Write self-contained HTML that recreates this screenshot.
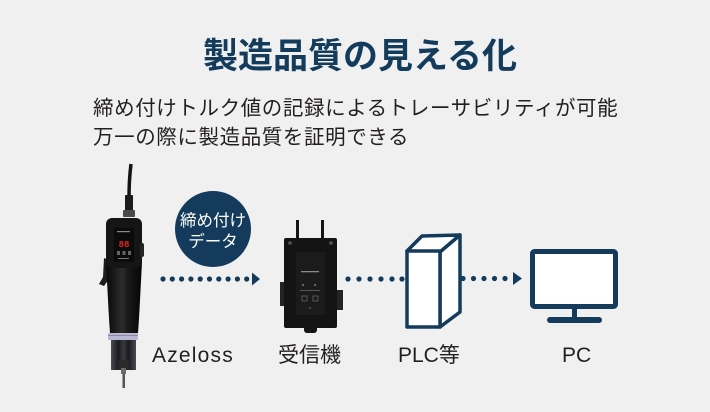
<!DOCTYPE html>
<html><head><meta charset="utf-8">
<style>
html,body{margin:0;padding:0;}
body{width:710px;height:412px;background:#f0f0f0;position:relative;overflow:hidden;font-family:"Liberation Sans","Noto Sans CJK JP",sans-serif;}
.t{position:absolute;white-space:nowrap;}
#title{left:203px;top:36px;font-size:35px;line-height:35px;font-weight:bold;color:#133c5c;font-family:"Noto Sans CJK JP",sans-serif;}
#sub{left:93px;top:92px;font-size:20.5px;line-height:29px;color:#231f20;letter-spacing:0.6px;font-family:"Noto Sans CJK JP",sans-serif;}
.lbl{font-size:21px;line-height:21px;color:#231f20;top:345px;}
#ctext{left:175px;top:209px;width:76px;text-align:center;color:#fff;font-size:16.5px;line-height:21px;font-family:"Noto Sans CJK JP",sans-serif;}
svg{position:absolute;left:0;top:0;}
</style></head>
<body>
<svg width="710" height="412" viewBox="0 0 710 412">
  <defs>
    <linearGradient id="grip" x1="0" x2="1" y1="0" y2="0">
      <stop offset="0" stop-color="#070707"/>
      <stop offset="0.45" stop-color="#2c2c2c"/>
      <stop offset="0.6" stop-color="#1a1a1a"/>
      <stop offset="1" stop-color="#050505"/>
    </linearGradient>
    <linearGradient id="nose" x1="0" x2="1">
      <stop offset="0" stop-color="#4a4a55"/>
      <stop offset="0.3" stop-color="#1a1a1e"/>
      <stop offset="0.5" stop-color="#3a3a3e"/>
      <stop offset="0.7" stop-color="#1a1a1e"/>
      <stop offset="1" stop-color="#4a4a55"/>
    </linearGradient>
  </defs>
  <!-- screwdriver -->
  <path d="M131,164 Q129,180 129,198" stroke="#141414" stroke-width="3.5" fill="none"/>
  <rect x="125" y="195" width="8" height="17" rx="1" fill="#1b1b1b"/>
  <rect x="123" y="210" width="12" height="7" rx="1" fill="#4a4a4a"/>
  <path d="M104,258 L111,261 L109,279 L104,286 L99,284 L103,277 Z" fill="#1c1c1c"/>
  <path d="M106,262 L142,262 L140,300 Q139,320 138,333 L110,333 Q109,320 108,300 Z" fill="url(#grip)"/>
  <rect x="106" y="218" width="36" height="50" rx="6" fill="#151515"/>
  <rect x="140" y="243" width="4" height="14" rx="2" fill="#252525"/>
  <rect x="114" y="228" width="20" height="34" fill="#0b0b0b"/>
  <rect x="117" y="231" width="13" height="1.2" fill="#888"/>
  <text x="124" y="247" font-size="9" font-weight="bold" fill="#e3262b" text-anchor="middle" font-family="Liberation Mono,monospace">88</text>
  <rect x="117" y="251" width="3" height="4" fill="#666"/>
  <rect x="122.5" y="251" width="3" height="4" fill="#666"/>
  <rect x="128" y="251" width="3" height="4" fill="#666"/>
  <rect x="118" y="258" width="11" height="1" fill="#777"/>
  <rect x="108" y="333" width="30" height="7" rx="1" fill="#b8b7d2"/>
  <rect x="108" y="335" width="30" height="1" fill="#8a89a8"/>
  <rect x="111" y="340" width="25" height="30" fill="url(#nose)"/>
  <rect x="118" y="360" width="11" height="10" fill="#2a2a2a"/>
  <rect x="121" y="368" width="5" height="6" fill="#6a6a6a"/>
  <rect x="122.5" y="374" width="2.5" height="14" fill="#555"/>
  <!-- receiver -->
  <rect x="296" y="220" width="3" height="22" fill="#151515"/>
  <rect x="321" y="220" width="3" height="22" fill="#151515"/>
  <rect x="280" y="282" width="6" height="24" fill="#242424"/>
  <rect x="335" y="290" width="8" height="20" fill="#242424"/>
  <rect x="304" y="324" width="13" height="9" rx="3" fill="#151515"/>
  <rect x="284" y="238" width="53" height="90" rx="2" fill="#141414"/>
  <circle cx="290" cy="243" r="1.8" fill="#555"/>
  <circle cx="331" cy="243" r="1.8" fill="#555"/>
  <rect x="296" y="252" width="29" height="63" fill="#1b1b1b"/>
  <rect x="301" y="271" width="18" height="1.3" fill="#8a8a8a"/>
  <circle cx="303" cy="285" r="1.2" fill="#666"/>
  <circle cx="315" cy="285" r="1.2" fill="#666"/>
  <rect x="300" y="290" width="20" height="1" fill="#555"/>
  <rect x="302" y="296" width="5" height="5" fill="none" stroke="#666" stroke-width="0.8"/>
  <rect x="313" y="296" width="5" height="5" fill="none" stroke="#666" stroke-width="0.8"/>
  <circle cx="310" cy="308" r="1" fill="#555"/>
  <!-- circle -->
  <circle cx="213" cy="229" r="38" fill="#143b5b"/>
  <!-- arrows -->
  <g fill="#143b5b">
    <circle cx="163" cy="279" r="2.6"/><circle cx="172.3" cy="279" r="2.6"/><circle cx="181.6" cy="279" r="2.6"/><circle cx="190.9" cy="279" r="2.6"/><circle cx="200.2" cy="279" r="2.6"/><circle cx="209.5" cy="279" r="2.6"/><circle cx="218.8" cy="279" r="2.6"/><circle cx="228.1" cy="279" r="2.6"/><circle cx="237.4" cy="279" r="2.6"/><circle cx="246.7" cy="279" r="2.6"/>
    <polygon points="252,272.5 260,279 252,285.5"/>
    <circle cx="348" cy="279" r="2.6"/><circle cx="359" cy="279" r="2.6"/><circle cx="370" cy="279" r="2.6"/><circle cx="381" cy="279" r="2.6"/><circle cx="392" cy="279" r="2.6"/><circle cx="402" cy="279" r="2.6"/>
    <circle cx="463" cy="278.5" r="2.6"/><circle cx="473.5" cy="278.5" r="2.6"/><circle cx="484" cy="278.5" r="2.6"/><circle cx="494.5" cy="278.5" r="2.6"/><circle cx="505" cy="278.5" r="2.6"/>
    <polygon points="513,272 522,278.5 513,285"/>
  </g>
  <!-- PLC box -->
  <g stroke="#143b5b" stroke-width="3.5" stroke-linejoin="round" fill="#fff">
    <polygon points="407,251 422,236 460,235 440,252"/>
    <polygon points="440,252 460,235 460,312 440,327"/>
    <rect x="407" y="251" width="33" height="76"/>
  </g>
  <!-- PC monitor -->
  <rect x="532.5" y="251.5" width="83" height="55" rx="2" fill="#fff" stroke="#143b5b" stroke-width="5"/>
  <rect x="572" y="308" width="5" height="11" fill="#143b5b"/>
  <line x1="550" y1="320" x2="599" y2="320" stroke="#143b5b" stroke-width="6" stroke-linecap="round"/>
</svg>
<div class="t" id="title">製造品質の見える化</div>
<div class="t" id="sub">締め付けトルク値の記録によるトレーサビリティが可能<br>万一の際に製造品質を証明できる</div>
<div class="t" id="ctext">締め付け<br>データ</div>
<div class="t lbl" style="left:152px;letter-spacing:1.2px;">Azeloss</div>
<div class="t lbl" style="left:278px;">受信機</div>
<div class="t lbl" style="left:398px;">PLC等</div>
<div class="t lbl" style="left:562px;">PC</div>
</body></html>
